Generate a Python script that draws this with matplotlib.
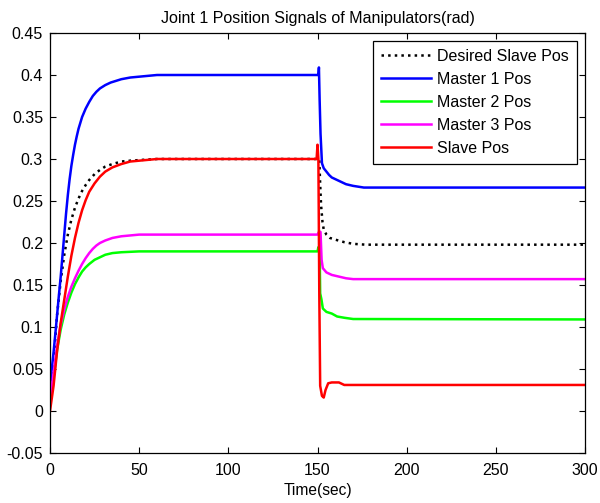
import matplotlib
matplotlib.use("Agg")
import matplotlib.pyplot as plt
from matplotlib.ticker import FuncFormatter

plt.rcParams['font.family'] = ['Liberation Sans', 'DejaVu Sans']

# ---- data ----
t_desired = [0, 2, 4, 6, 8, 10, 12, 14, 16, 18, 20, 22, 25, 28, 31, 35, 40, 45, 52, 60, 150, 151,
             151.5, 152, 152.8, 153.5, 155, 157, 160, 165, 170, 177, 300]
desired = [0.02, 0.06, 0.115, 0.155, 0.186, 0.21, 0.228, 0.242, 0.253, 0.262, 0.269, 0.275, 0.282,
           0.287, 0.291, 0.294, 0.297, 0.298, 0.299, 0.3, 0.3, 0.3, 0.27, 0.245, 0.225, 0.216, 0.21,
           0.206, 0.204, 0.201, 0.199, 0.198, 0.198]

t_m1 = [0, 1, 2, 3, 4, 5, 6, 7, 8, 9, 10, 11, 12, 13, 14, 15, 16, 17, 18, 20, 22, 24, 26, 28, 31, 34,
        37, 40, 45, 50, 55, 60, 150.5, 150.8, 151.2, 151.7, 152.5, 153.5, 155, 156.5, 158, 160, 162,
        164, 166, 168, 170, 173, 176, 300]
master1 = [0.03, 0.05, 0.07, 0.092, 0.115, 0.138, 0.16, 0.185, 0.21, 0.235, 0.257, 0.276, 0.292, 0.305,
           0.317, 0.327, 0.336, 0.343, 0.35, 0.36, 0.368, 0.375, 0.38, 0.384, 0.388, 0.391, 0.393,
           0.395, 0.397, 0.398, 0.399, 0.4, 0.4, 0.409, 0.37, 0.33, 0.295, 0.289, 0.285, 0.281, 0.278,
           0.276, 0.274, 0.272, 0.27, 0.269, 0.268, 0.267, 0.266, 0.266]

t_m2 = [0, 2, 4, 6, 8, 10, 12, 14, 16, 18, 20, 22, 25, 28, 31, 35, 40, 50, 150, 150.5, 151.2, 151.5,
        152.2, 153, 155, 158, 161, 165, 170, 300]
master2 = [0.01, 0.04, 0.073, 0.097, 0.115, 0.129, 0.141, 0.151, 0.159, 0.166, 0.171, 0.175, 0.18,
           0.183, 0.186, 0.188, 0.189, 0.19, 0.19, 0.195, 0.19, 0.14, 0.133, 0.122, 0.118, 0.116,
           0.1125, 0.111, 0.1095, 0.109]

t_m3 = [0, 2, 4, 6, 8, 10, 12, 14, 16, 18, 20, 22, 24, 26, 28, 31, 35, 40, 45, 50, 150, 151, 151.7,
        152.3, 153, 155, 158, 162, 166, 170, 300]
master3 = [0.01, 0.045, 0.078, 0.103, 0.121, 0.136, 0.148, 0.158, 0.167, 0.175, 0.182, 0.188, 0.193,
           0.197, 0.2, 0.203, 0.206, 0.208, 0.209, 0.21, 0.21, 0.214, 0.213, 0.18, 0.17, 0.165, 0.162,
           0.16, 0.158, 0.157, 0.157]

t_slave = [0, 2, 4, 6, 8, 10, 12, 14, 16, 18, 20, 22, 25, 28, 31, 35, 40, 45, 50, 60, 149.5, 150,
           150.5, 151, 151.5, 152.5, 153.5, 154.5, 156, 158, 162, 165, 300]
slave = [0.0, 0.03, 0.072, 0.105, 0.1325, 0.16, 0.185, 0.206, 0.224, 0.239, 0.251, 0.261, 0.271,
         0.279, 0.285, 0.29, 0.294, 0.297, 0.298, 0.3, 0.3, 0.317, 0.3, 0.14, 0.03, 0.018, 0.016,
         0.025, 0.033, 0.034, 0.034, 0.031, 0.031]

labels = ['Desired Slave Pos', 'Master 1 Pos', 'Master 2 Pos', 'Master 3 Pos', 'Slave Pos']
title = 'Joint 1 Position Signals of Manipulators(rad)'
xlabel = 'Time(sec)'
xticks = [0, 50, 100, 150, 200, 250, 300]
yticks = [-0.05, 0, 0.05, 0.1, 0.15, 0.2, 0.25, 0.3, 0.35, 0.4, 0.45]

# ---- plot ----
fig = plt.figure(figsize=(6.0, 5.03), dpi=100)
ax = fig.add_axes([50 / 600, 1 - 453 / 503, 535 / 600, 420 / 503])

lw = 1.8
ax.plot(t_desired, desired, color='black', linestyle=':', linewidth=lw, label=labels[0])
ax.plot(t_m1, master1, color=(0, 0, 1), linewidth=lw, label=labels[1])
ax.plot(t_m2, master2, color=(0, 1, 0), linewidth=lw, label=labels[2])
ax.plot(t_m3, master3, color=(1, 0, 1), linewidth=lw, label=labels[3])
ax.plot(t_slave, slave, color=(1, 0, 0), linewidth=lw, label=labels[4])

ax.set_xlim(0, 300)
ax.set_ylim(-0.05, 0.45)
ax.set_xticks(xticks)
ax.set_yticks(yticks)
ax.yaxis.set_major_formatter(FuncFormatter(lambda v, p: f"{round(v, 2):g}"))
ax.tick_params(direction='in', top=True, right=True, length=4, width=0.8, labelsize=11.5,
               colors='black')
ax.tick_params(axis='x', pad=7)
ax.tick_params(axis='y', pad=5)
for s in ax.spines.values():
    s.set_linewidth(0.9)
    s.set_color('black')

ax.set_title(title, fontsize=11.5, pad=7)
ax.set_xlabel(xlabel, fontsize=11.2, labelpad=4)

leg = ax.legend(loc='upper right', fontsize=11.5, fancybox=False, framealpha=1, edgecolor='black',
                handlelength=3.1, borderaxespad=0.5, labelspacing=0.5, borderpad=0.5,
                handletextpad=0.4)
leg.get_frame().set_linewidth(0.9)

fig.savefig('out.png', dpi=100)
